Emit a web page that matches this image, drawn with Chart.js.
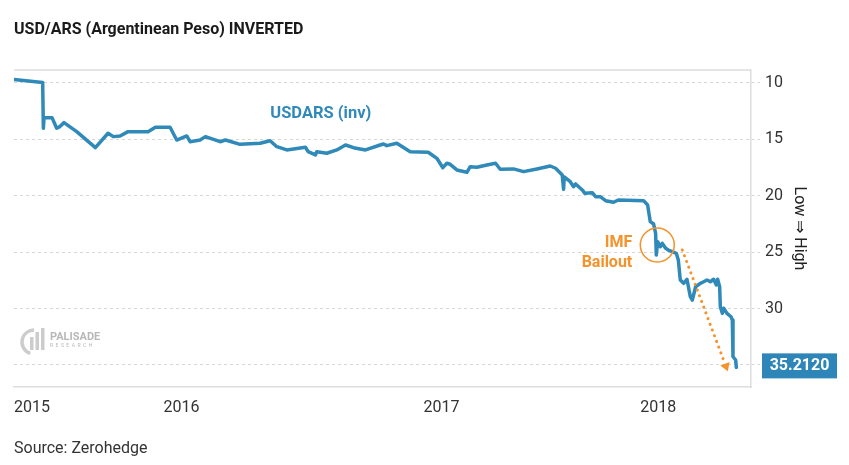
<!DOCTYPE html>
<html>
<head>
<meta charset="utf-8">
<script src="https://cdn.jsdelivr.net/npm/chart.js@4"></script>
<style>
  html, body { margin: 0; padding: 0; background: #fff; }
  #wrap { width: 849px; height: 465px; }
</style>
</head>
<body>
<div id="wrap"><canvas id="canvas"></canvas></div>
<script>
// days since start of chart (roughly Nov 2015) and USD/ARS rate, inverted axis
var days = [0, 43, 44, 45, 57, 64, 68, 75, 94, 122, 141, 149, 159, 171, 201, 212, 234, 244, 259, 264,
    279, 287, 309, 317, 339, 369, 384, 394, 409, 437, 441, 452, 454, 469, 484, 497, 509, 527, 549, 554,
    559, 574, 594, 621, 634, 643, 649, 654, 664, 679, 684, 694, 709, 722, 729, 749, 764, 784, 804, 812,
    822, 824, 825, 834, 839, 842, 852, 856, 867, 872, 879, 887, 899, 906, 944, 950, 954, 959, 962, 963,
    965, 969, 972, 977, 981, 987, 993, 996, 999, 1004, 1009, 1014, 1017, 1022, 1029, 1034, 1039, 1044, 1049, 1053,
    1055, 1058, 1059, 1062, 1064, 1069, 1075, 1077, 1078, 1082, 1083];
var usdars = [9.72, 9.98, 14.04, 13.1, 13.1, 14.04, 13.92, 13.54, 14.34, 15.76, 14.48, 14.78, 14.72, 14.34, 14.34, 13.95, 13.95, 15.08, 14.72, 15.23,
    15.08, 14.78, 15.23, 15.08, 15.46, 15.37, 15.14, 15.67, 15.96, 15.72, 16.11, 16.40, 16.11, 16.25, 15.96, 15.52, 15.76, 15.96, 15.52, 15.43,
    15.58, 15.37, 16.11, 16.16, 16.70, 17.53, 17.14, 17.23, 17.73, 17.94, 17.44, 17.49, 17.29, 17.14, 17.67, 17.64, 17.88, 17.64, 17.38, 17.58,
    18.18, 19.44, 18.35, 18.77, 19.21, 18.97, 19.50, 19.80, 19.74, 20.10, 20.10, 20.45, 20.59, 20.39, 20.45, 20.83, 22.31, 22.52, 23.34, 25.26,
    24.08, 24.53, 24.23, 24.67, 24.82, 24.97, 25.11, 25.70, 27.48, 27.77, 27.41, 28.95, 29.25, 28.07, 27.77, 27.63, 27.48, 27.63, 27.41, 27.92,
    27.41, 28.07, 29.84, 30.43, 29.98, 30.43, 30.73, 31.02, 34.27, 34.56, 35.212];

var xTickDays = [0, 224, 614, 939];
var xTickLabels = ['2015', '2016', '2017', '2018'];
var yTicks = [10, 15, 20, 25, 30, 35];

var blue = '#2f89b9';
var orange = '#f5922a';

Chart.defaults.font.family = 'Roboto, "Noto Sans", sans-serif';

var points = days.map(function (d, i) { return {x: d, y: usdars[i]}; });

var extras = {
    id: 'extras',
    beforeDatasetsDraw: function (chart) {
        var ctx = chart.ctx, a = chart.chartArea;
        ctx.save();
        ctx.strokeStyle = '#dddddd';
        ctx.lineWidth = 1.5;
        ctx.beginPath();
        ctx.moveTo(a.left, a.top);
        ctx.lineTo(a.right, a.top);
        ctx.stroke();

        // watermark logo
        var lx = a.left + 6, ly = a.bottom - 56;
        ctx.strokeStyle = '#cccccc';
        ctx.fillStyle = '#cccccc';
        ctx.lineWidth = 3.5;
        ctx.beginPath();
        ctx.arc(lx + 14, ly + 11, 12, 0.6 * Math.PI, 1.5 * Math.PI);
        ctx.stroke();
        ctx.fillRect(lx + 10, ly + 6, 3.5, 13);
        ctx.fillRect(lx + 15.5, ly + 1, 3.5, 18);
        ctx.fillRect(lx + 21, ly - 3, 3.5, 22);
        ctx.font = 'bold 11px Roboto';
        ctx.textBaseline = 'middle';
        ctx.fillStyle = '#b8b8b8';
        ctx.fillText('PALISADE', lx + 30, ly + 6);
        ctx.font = '5px Roboto';
        ctx.fillText('R  E  S  E  A  R  C  H', lx + 30, ly + 15);
        ctx.restore();
    },
    afterDatasetsDraw: function (chart) {
        var ctx = chart.ctx, x = chart.scales.x, y = chart.scales.y;
        ctx.save();
        ctx.textBaseline = 'middle';

        ctx.font = 'bold 16.5px Roboto';
        ctx.fillStyle = blue;
        ctx.textAlign = 'center';
        ctx.fillText('USDARS (inv)', x.getPixelForValue(460), y.getPixelForValue(12.8));

        ctx.font = 'bold 16px Roboto';
        ctx.fillStyle = orange;
        ctx.textAlign = 'right';
        ctx.fillText('IMF', x.getPixelForValue(927), y.getPixelForValue(24.2));
        ctx.fillText('Bailout', x.getPixelForValue(927), y.getPixelForValue(25.97));

        ctx.strokeStyle = orange;
        ctx.lineWidth = 1.5;
        ctx.beginPath();
        ctx.arc(x.getPixelForValue(964.5), y.getPixelForValue(24.38), 17, 0, Math.PI * 2);
        ctx.stroke();

        var x0 = x.getPixelForValue(1002), y0 = y.getPixelForValue(24.82);
        var x1 = x.getPixelForValue(1066), y1 = y.getPixelForValue(34.9);
        ctx.lineWidth = 3;
        ctx.lineCap = 'round';
        ctx.setLineDash([0.1, 6]);
        ctx.beginPath();
        ctx.moveTo(x0, y0);
        ctx.lineTo(x1, y1);
        ctx.stroke();
        ctx.setLineDash([]);
        var ang = Math.atan2(y1 - y0, x1 - x0);
        ctx.fillStyle = orange;
        ctx.beginPath();
        ctx.moveTo(x1 + 8 * Math.cos(ang), y1 + 8 * Math.sin(ang));
        ctx.lineTo(x1 + 5 * Math.cos(ang + Math.PI / 2), y1 + 5 * Math.sin(ang + Math.PI / 2));
        ctx.lineTo(x1 + 5 * Math.cos(ang - Math.PI / 2), y1 + 5 * Math.sin(ang - Math.PI / 2));
        ctx.closePath();
        ctx.fill();
        ctx.restore();
    },
    afterDraw: function (chart) {
        var ctx = chart.ctx, a = chart.chartArea, y = chart.scales.y;
        var last = usdars[usdars.length - 1];
        var py = y.getPixelForValue(last) - 2;
        ctx.save();
        ctx.fillStyle = '#2e86b8';
        ctx.fillRect(a.right + 11, py - 12, 75, 25);
        ctx.fillStyle = '#ffffff';
        ctx.font = 'bold 16px Roboto';
        ctx.textAlign = 'center';
        ctx.textBaseline = 'middle';
        ctx.fillText(last.toFixed(4), a.right + 48.5, py + 1);
        ctx.restore();
    }
};

new Chart(document.getElementById('canvas').getContext('2d'), {
    type: 'line',
    data: {
        datasets: [{
            label: 'USDARS (inv)',
            data: points,
            borderColor: blue,
            borderWidth: 3.5,
            pointRadius: 0,
            tension: 0,
            fill: false,
            borderJoinStyle: 'round',
            borderCapStyle: 'round'
        }]
    },
    options: {
        responsive: true,
        maintainAspectRatio: false,
        animation: false,
        layout: { padding: { left: 14, right: 40, top: 0, bottom: 0 } },
        plugins: {
            legend: { display: false },
            tooltip: { enabled: false },
            title: {
                display: true,
                text: 'USD/ARS (Argentinean Peso) INVERTED',
                align: 'start',
                color: '#1a1a1a',
                font: { size: 16, weight: 'bold' },
                padding: { top: 20, bottom: 30.8 }
            },
            subtitle: {
                display: true,
                position: 'bottom',
                text: 'Source: Zerohedge',
                align: 'start',
                color: '#333',
                font: { size: 16 },
                padding: { top: 7, bottom: 6 }
            }
        },
        scales: {
            x: {
                type: 'linear',
                min: 0,
                max: 1105,
                grid: { display: false, drawTicks: false },
                border: { display: true, color: '#dddddd', width: 1.5 },
                ticks: {
                    align: 'start',
                    padding: 11,
                    color: '#333',
                    font: { size: 16 },
                    autoSkip: false,
                    maxRotation: 0,
                    callback: function (v) { return xTickLabels[xTickDays.indexOf(v)]; }
                },
                afterBuildTicks: function (s) {
                    s.ticks = xTickDays.map(function (v) { return {value: v}; });
                },
                afterFit: function (s) {
                    s.height = 45.8;
                    s.paddingLeft = 0;
                    s.paddingRight = 0;
                }
            },
            y: {
                position: 'right',
                reverse: true,
                min: 8.88,
                max: 36.95,
                grid: {
                    color: '#d6d6d6',
                    tickLength: 9,
                    tickBorderDash: [3, 3],
                    tickColor: '#d6d6d6'
                },
                border: { display: true, color: '#dddddd', width: 1.5, dash: [3, 3] },
                ticks: {
                    padding: 5,
                    color: '#333',
                    font: { size: 16 },
                    callback: function (v) { return String(v); }
                },
                afterBuildTicks: function (s) {
                    s.ticks = yTicks.map(function (v) { return {value: v}; });
                },
                afterFit: function (s) {
                    s.width = 58;
                },
                title: {
                    display: true,
                    text: 'Low \u21d2 High',
                    color: '#222',
                    font: { size: 16 },
                    padding: 0
                }
            }
        }
    },
    plugins: [extras]
});
</script>
</body>
</html>
